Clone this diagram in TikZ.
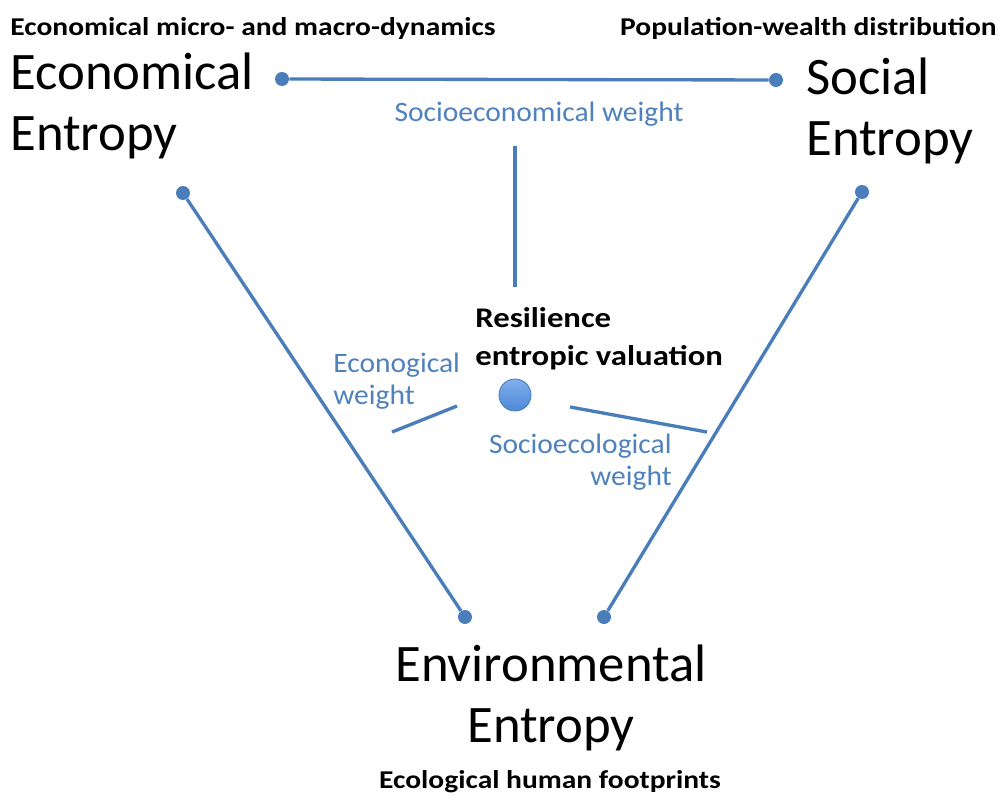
\documentclass[tikz,border=0pt]{standalone}
\usepackage{fontspec}
\setmainfont{Carlito}
\newfontfamily\widefont[FakeStretch=1.15]{Carlito}
\newfontfamily\bluefont[FakeStretch=1.05]{Carlito}
\usetikzlibrary{positioning}

\definecolor{lineblue}{HTML}{4A7EBB}
\definecolor{textblue}{HTML}{4F81BD}
\definecolor{balltop}{HTML}{7FB0EE}
\definecolor{ballbottom}{HTML}{4F88D6}

\tikzset{
  dot/.style={circle, fill=lineblue, inner sep=0pt, minimum size=0.28cm},
  ball/.style={circle, draw=lineblue, line width=0.5pt, top color=balltop, bottom color=ballbottom, inner sep=0pt, minimum size=0.64cm},
  link/.style={draw=lineblue, line width=1.9pt},
  bigtext/.style={inner sep=0pt, font=\fontsize{30}{34.5}\selectfont},
  smallbold/.style={inner sep=0pt, font=\widefont\fontsize{14.6}{17}\selectfont\bfseries},
  weighttext/.style={inner sep=0pt, text=textblue, font=\bluefont\fontsize{16}{18.2}\selectfont},
}

\begin{document}
\begin{tikzpicture}[x=0.02cm, y=-0.02cm]
  \useasboundingbox (0,0) rectangle (1002,798);

  % the three entropies (base = last line)
  \node[bigtext, align=left, anchor=base west] (econ) at (10,150) {Economical\\Entropy};
  \node[bigtext, align=left, anchor=base west] (soc) at (806,155) {Social\\Entropy};
  \node[bigtext, align=center, anchor=base] (env) at (551,742) {Environmental\\Entropy};

  \node[smallbold, anchor=base west] (econtitle) at (10,35) {Economical micro- and macro-dynamics};
  \node[smallbold, anchor=base east] (soctitle) at (997,35) {Population-wealth distribution};
  \node[smallbold, anchor=base] (envtitle) at (550,788) {Ecological human footprints};

  % end points of the sides
  \node[dot] (ecA) at (282,79) {};
  \node[dot] (soA) at (776,80) {};
  \node[dot] (ecB) at (183,193) {};
  \node[dot] (enA) at (465,617) {};
  \node[dot] (soB) at (862,192) {};
  \node[dot] (enB) at (604,617) {};

  \path[link] (ecA) to (soA);
  \path[link] (ecB) to (enA);
  \path[link] (soB) to (enB);

  % centre
  \node[ball] (res) at (515,395) {};
  \node[inner sep=0pt, align=left, anchor=base west, font=\widefont\fontsize{16.2}{21.5}\selectfont\bfseries] (restext) at (475,365) {Resilience\\entropic valuation};

  \coordinate (swTop) at (515,146);
  \coordinate (swBot) at (515,287);
  \coordinate (ewA) at (392,432);
  \coordinate (ewB) at (457,406);
  \coordinate (sewA) at (570,407);
  \coordinate (sewB) at (707,432);

  \path[link] (swTop) to (swBot);
  \path[link] (ewA) to (ewB);
  \path[link] (sewA) to (sewB);

  % weights
  \node[weighttext, anchor=base] (sew) at (539,121) {Socioeconomical weight};
  \node[weighttext, align=left, anchor=base west] (ecw) at (333,404) {Econogical\\weight};
  \node[weighttext, align=right, anchor=base east] (sow) at (672,485) {Socioecological\\weight};

\end{tikzpicture}
\end{document}
